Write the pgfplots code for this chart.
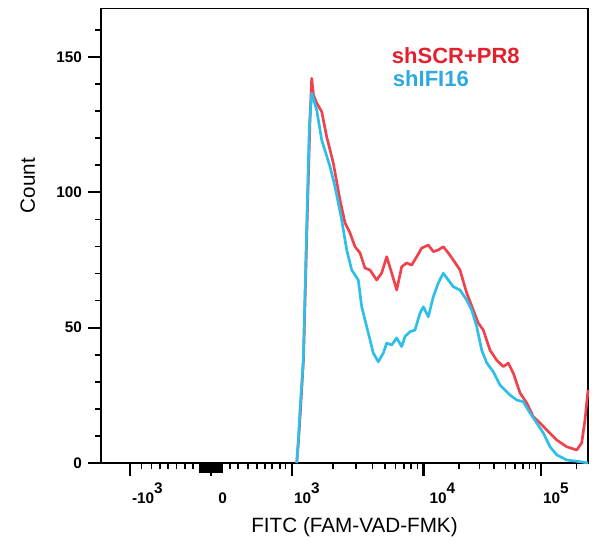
\documentclass[border=0pt]{standalone}
\usepackage{pgfplots}
\pgfplotsset{compat=1.18}
\usepackage{fontspec}
\setmainfont{Liberation Sans}

\definecolor{scrline}{HTML}{F0424C}
\definecolor{ifiline}{HTML}{2DBFE8}
\definecolor{scrtext}{HTML}{E3202C}
\definecolor{ifitext}{HTML}{2BA9E0}

% x is in display channels of the biexponential FITC scale (1 unit = 1 px of the source)
\newcommand{\ex}[1]{\raisebox{0.7em}{#1}}

\begin{document}
\begin{tikzpicture}
\begin{axis}[
    scale only axis,
    width=365.25pt,
    height=340.875pt,
    xmin=101, xmax=588,
    ymin=0, ymax=167.9,
    axis line style={line width=1.4pt, black},
    tick align=outside,
    xtick pos=bottom, ytick pos=left,
    major tick length=9.75pt,
    minor tick length=4.5pt,
    tick style={line width=1.3pt, black},
    major tick style={line width=1.6pt, black},
    minor tick style={line width=1.2pt, black},
    ytick={0,50,100,150},
    minor ytick={10,20,30,40,60,70,80,90,110,120,130,140,160},
    xtick={130,211,292,423.5,541},
    xticklabels={-10\ex{3},\hspace{4pt}0,10\ex{3},\hspace{3pt}10\ex{4},10\ex{5}},
    minor xtick={141.7,151.7,160,168,176.7,185,193,
        230,238,248,257,265,272,280,285.5,
        333,356,372.5,385,395.5,404,411,417.5,
        458.9,479.6,494.2,505.6,514.9,522.8,529.6,535.6,576.4},
    extra x ticks={200,202,204,206,208,210,212,214,216,218,220,222},
    extra x tick labels={},
    extra x tick style={major tick length=7.5pt, major tick style={line width=1.4pt, black}},
    /pgf/number format/assume math mode=true,
    xticklabel style={font=\bfseries\fontsize{11.5}{13}\selectfont, anchor=base west, yshift=-21pt, xshift=-2pt},
    yticklabel style={font=\bfseries\fontsize{11.5}{13}\selectfont, xshift=-1pt},
    clip=false,
]

% === shSCR+PR8 ===
\addplot[scrline, line width=2pt, line join=round] coordinates {
    (296.7,0) (298.5,8.1) (300.5,19.6) (303.5,38.1) (307,87.2) (310,126.7)
    (311.7,142.1) (313.5,135.9) (316.7,133.0) (321.7,129.8) (326.7,120.5)
    (333.3,110.8) (340,97.2) (345,88.7) (350,85.0) (355,79.9) (360,77.6)
    (365,72.0) (370,71.3) (376.7,67.6) (381.7,70.2) (386.7,76.2) (391.7,70.2)
    (396.7,63.9) (401.7,72.5) (406.7,73.9) (411.7,73.1) (416.7,76.2)
    (421.7,79.4) (428.3,80.5) (433.3,78.1) (438.3,78.7) (443.3,79.9)
    (448.3,77.6) (453.3,75.0) (460,71.3) (466.7,62.8) (473.3,56.5)
    (478.3,51.7) (483.3,49.1) (490,41.7) (496.7,38.0) (503.3,35.6)
    (508.3,36.9) (513.3,33.2) (520,25.9) (526.7,22.2) (533.3,17.1)
    (540,14.8) (546.7,12.2) (556.7,8.5) (566.7,6.0) (576.7,4.8)
    (581.7,7.4) (585,15.9) (588,27.0)
};

% === shIFI16 ===
\addplot[ifiline, line width=2pt, line join=round] coordinates {
    (296.7,0) (298.3,8.1) (300,19.6) (303.3,38.1) (306.7,87.2) (309.3,124.1)
    (311.7,136.6) (316.7,130.4) (321.7,119.3) (330,109.5) (335,102.1)
    (341.7,89.8) (346.7,78.7) (351.7,71.3) (358.3,67.6) (361.7,57.7)
    (368.3,48.0) (373.3,40.6) (378.3,37.4) (383.3,40.6) (386.7,44.3)
    (391.7,43.6) (396.7,46.2) (401.7,43.0) (405,46.7) (410,48.5) (415,49.1)
    (420,55.4) (423.3,57.7) (428.3,54.0) (433.3,61.4) (438.3,66.5)
    (443.3,70.1) (448.3,67.6) (453.3,65.1) (460,63.9) (466.7,60.2)
    (471.7,56.5) (476.7,50.4) (481.7,41.7) (486.7,37.0) (493.3,33.7)
    (500,28.8) (510,25.1) (516.7,23.3) (523.3,22.6) (530,18.5) (536.7,14.8)
    (543.3,11.1) (550,6.0) (556.7,3.0) (566.7,1.1) (580,0.5) (588,0)
};

\node[anchor=base west, text=scrtext, font=\bfseries\fontsize{16.5}{18}\selectfont, inner sep=0pt]
    at (axis cs:391.7,147.7) {shSCR+PR8};
\node[anchor=base west, text=ifitext, font=\bfseries\fontsize{16.5}{18}\selectfont, inner sep=0pt]
    at (axis cs:392.7,139.0) {shIFI16};

\node[anchor=base, font=\fontsize{15.5}{18}\selectfont, inner sep=0pt]
    at (axis cs:354.5,-25.86) {FITC (FAM-VAD-FMK)};
\node[anchor=base, rotate=90, font=\fontsize{15.5}{18}\selectfont, inner sep=0pt]
    at (axis cs:35,102.5) {Count};

\coordinate (bbl) at (axis cs:0,-29.18);
\coordinate (btr) at (axis cs:601,171.04);
\end{axis}
\path[use as bounding box] (bbl) rectangle (btr);
\end{tikzpicture}
\end{document}
